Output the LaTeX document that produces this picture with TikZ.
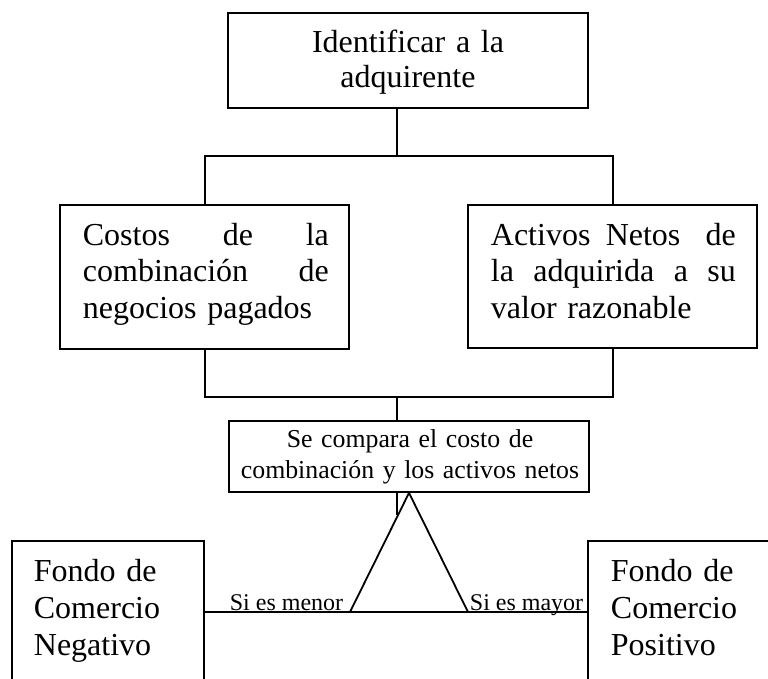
\documentclass[tikz,border=0pt]{standalone}
\usepackage{fontspec}
\setmainfont{Liberation Serif}
\begin{document}
\begin{tikzpicture}[x=1pt,y=-1pt,line width=1.8pt,
  box/.style={draw,rectangle,inner sep=0pt},
  bigtxt/.style={font=\fontsize{32}{36.5}\selectfont,inner sep=0pt},
  midtxt/.style={font=\fontsize{25.8}{31}\selectfont,inner sep=0pt},
  lbl/.style={font=\fontsize{24}{28}\selectfont,inner xsep=1pt,inner ysep=3pt,text depth=0pt}]
\useasboundingbox (0,0) rectangle (768,679);
% boxes
\node[box,minimum width=360pt,minimum height=95pt] (top) at (408,60.5) {};
\node[box,minimum width=289pt,minimum height=144pt] (left) at (204.5,277) {};
\node[box,minimum width=289pt,minimum height=143pt] (right) at (612.5,276.5) {};
\node[box,minimum width=360pt,minimum height=71pt] (cmp) at (409,456.5) {};
\node[box,minimum width=192pt,minimum height=179pt] (neg) at (108,630.5) {};
\node[box,minimum width=212pt,minimum height=179pt] (pos) at (694,630.5) {};
% texts
\node[bigtxt,text width=340pt,align=center,anchor=base,font=\fontsize{32}{35}\selectfont] (ttop) at (408,53)
  {Identificar a la\\adquirente};
\node[bigtxt,text width=246pt,align=left,anchor=base west] (tleft) at (82,245)
  {\makebox[246pt][l]{Costos\hfill de\hfill la}\\\makebox[246pt][l]{combinación\hfill de}\\negocios pagados};
\node[bigtxt,text width=245pt,align=left,anchor=base west] (tright) at (490,245)
  {\makebox[245pt][l]{Activos\hfill Netos\hspace{10pt}\hfill de}\\\makebox[245pt][l]{la\hfill adquirida\hfill a\hfill su}\\valor razonable};
\node[midtxt,text width=360pt,align=center,anchor=base] (tcmp) at (410,447)
  {Se compara el costo de\\combinación y los activos netos};
\node[bigtxt,text width=170pt,align=left,anchor=base west,font=\fontsize{32}{37}\selectfont] (tneg) at (33,581)
  {Fondo de\\Comercio\\Negativo};
\node[bigtxt,text width=150pt,align=left,anchor=base west,font=\fontsize{32}{37}\selectfont] (tpos) at (610,581)
  {Fondo de\\Comercio\\Positivo};
% labels
\node[lbl,anchor=base west] (menor) at (228,610) {Si es menor};
\node[lbl,anchor=base west,fill=white] (mayor) at (468,610) {Si es mayor\hspace{7pt}};
% connector coordinates
\coordinate (j1) at (397,156);
\coordinate (jl) at (205,156);
\coordinate (jr) at (613,156);
\coordinate (k1) at (397,397);
\coordinate (kl) at (205,397);
\coordinate (kr) at (613,397);
\coordinate (s1) at (397,515);
\coordinate (tl) at (350,612);
\coordinate (tr) at (468,612);
% connectors
\draw (top.south -| j1) -- (j1);
\draw (left.north -| jl) -- (jl) -- (jr) -- (right.north -| jr);
\draw (left.south -| kl) -- (kl) -- (kr) -- (right.south -| kr);
\draw (k1) -- (cmp.north -| k1);
\draw (cmp.south -| s1) -- (s1);
\draw[line join=miter] (tl) -- (cmp.south) -- (tr) -- cycle;
\draw (neg.east |- tl) -- (tl);
\draw (tr) -- (pos.west |- tr);
\end{tikzpicture}
\end{document}
